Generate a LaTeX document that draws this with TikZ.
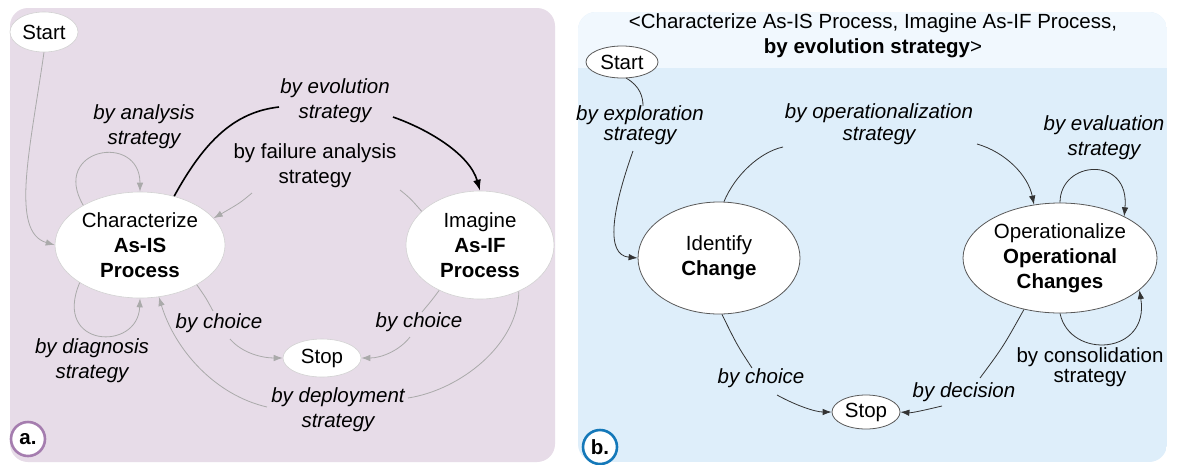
\documentclass[tikz,border=0pt]{standalone}
\usepackage{fontspec}
\setmainfont{Liberation Sans}
\usetikzlibrary{arrows.meta,shapes.geometric}
\definecolor{bgA}{RGB}{231,220,232}
\definecolor{bgB}{RGB}{222,238,250}
\definecolor{hdB}{RGB}{241,248,254}
\definecolor{lnA}{RGB}{170,170,170}
\definecolor{ringA}{RGB}{165,125,175}
\definecolor{ringB}{RGB}{20,120,185}
\newcommand\fsz{\fontsize{20.5}{25}\selectfont}
\newcommand\fszt{\fontsize{20.5}{20.5}\selectfont}
\tikzset{
 stA/.style={ellipse, draw=gray!35, line width=0.6pt, fill=white, inner sep=0pt, align=center, font=\fsz},
 stB/.style={ellipse, draw=black!65, line width=0.8pt, fill=white, inner sep=0pt, align=center, font=\fsz},
 lbl/.style={inner sep=0pt, align=center, font=\fsz\itshape},
 lblup/.style={inner sep=0pt, align=center, font=\fsz},
 conA/.style={draw=lnA, line width=0.8pt},
 conAarr/.style={conA, -{Latex[length=9pt,width=6.5pt]}},
 conE/.style={draw=black, line width=1.6pt},
 conEarr/.style={conE, -{Latex[length=11pt,width=8pt]}},
 conB/.style={draw=black!80, line width=0.8pt},
 conBarr/.style={conB, -{Latex[length=9pt,width=6.5pt]}},
 ring/.style={circle, fill=white, line width=2.6pt, minimum size=34pt, inner sep=0pt, font=\fsz\bfseries},
}
\begin{document}
\begin{tikzpicture}[x=1pt,y=-1pt]
\useasboundingbox (0,0) rectangle (1177,464);
% panels
\fill[white] (0,0) rectangle (1177,464);
\fill[bgA, rounded corners=18pt] (10,8) rectangle (555,462);
\begin{scope}
 \clip[rounded corners=18pt] (578,12) rectangle (1167,462);
 \fill[bgB] (578,12) rectangle (1167,462);
 \fill[hdB] (578,12) rectangle (1167,68);
\end{scope}

% ---------- panel a ----------
\node[stA, minimum width=68pt, minimum height=40pt] (startA) at (44,32) {Start};
\node[stA, minimum width=170pt, minimum height=106pt] (charA) at (140,245) {Characterize\\\textbf{As-IS}\\\textbf{Process}};
\node[stA, minimum width=148pt, minimum height=108pt] (imagA) at (480,245) {Imagine\\\textbf{As-IF}\\\textbf{Process}};
\node[stA, minimum width=78pt, minimum height=38pt] (stopA) at (322,358) {Stop};

\node[lbl] (lanal) at (144,126.5) {by analysis\\strategy};
\node[lbl] (levol) at (335,100.5) {by evolution\\strategy};
\node[lblup] (lfail) at (315,165.5) {by failure analysis\\strategy};
\node[lbl] (lchL) at (219,323) {by choice};
\node[lbl] (lchR) at (419,322) {by choice};
\node[lbl] (ldiag) at (92,360.5) {by diagnosis\\strategy};
\node[lbl] (ldepl) at (338,410) {by deployment\\strategy};

\coordinate (evL) at (279,107);
\coordinate (evR) at (393,117);
\coordinate (faR) at (400,190);
\coordinate (faL) at (252,193);
\coordinate (chLa) at (213,311);
\coordinate (chLb) at (230,339);
\coordinate (chRa) at (422,312);
\coordinate (chRb) at (410,337);
\coordinate (deR) at (408,398);
\coordinate (deL) at (267,407);

\draw[conAarr] (startA.south) .. controls (30,150) and (10,232) .. (charA.west);
\draw[conAarr] (charA.145) .. controls (50,148) and (140,132) .. (charA.north);
\draw[conAarr] (charA.212) .. controls (52,348) and (138,352) .. (charA.south);
\draw[conE] (charA.55) .. controls (205,140) and (235,112) .. (evL);
\draw[conEarr] (evR) .. controls (430,130) and (470,155) .. (imagA.north);
\draw[conA] (imagA.150) .. controls (410,198) .. (faR);
\draw[conAarr] (faL) .. controls (240,203) .. (charA.20);
\draw[conA] (charA.-35) .. controls (206,298) .. (chLa);
\draw[conAarr] (chLb) .. controls (242,353) and (262,358) .. (stopA.west);
\draw[conA] (imagA.228) .. controls (432,300) .. (chRa);
\draw[conAarr] (chRb) .. controls (400,350) and (382,358) .. (stopA.east);
\draw[conA] (imagA.-50) .. controls (518,345) and (460,390) .. (deR);
\draw[conAarr] (deL) .. controls (215,395) and (175,350) .. (charA.-70);

\node[ring, draw=ringA] (ringa) at (28,439) {a.};

% ---------- panel b ----------
\node[lblup] (hdr) at (873,35.5) {<Characterize As-IS Process, Imagine As-IF Process,\\\textbf{by evolution strategy}>};
\node[stB, minimum width=72pt, minimum height=32pt] (startB) at (622,62) {Start};
\node[stB, minimum width=162pt, minimum height=112pt] (identB) at (719,258) {Identify\\\textbf{Change}};
\node[stB, minimum width=194pt, minimum height=110pt] (operB) at (1060,258) {Operationalize\\\textbf{Operational}\\\textbf{Changes}};
\node[stB, minimum width=68pt, minimum height=34pt] (stopB) at (866,412) {Stop};

\node[lbl, font=\fszt\itshape] (lexpl) at (640,125) {by exploration\\strategy};
\node[lbl, font=\fontsize{20.5}{22}\selectfont\itshape] (loper) at (879,124.5) {by operationalization\\strategy};
\node[lbl] (leval) at (1104,137.5) {by evaluation\\strategy};
\node[lblup, font=\fszt] (lcons) at (1090,367) {by consolidation\\strategy};
\node[lbl] (lchB) at (761,378) {by choice};
\node[lbl] (ldec) at (964,392) {by decision};

\coordinate (exT) at (643,106);
\coordinate (exB) at (633,151);
\coordinate (opL) at (783,147);
\coordinate (opR) at (977,144);
\coordinate (chBa) at (752,368);
\coordinate (chBb) at (777,395);
\coordinate (deca) at (980,378);
\coordinate (decb) at (942,406);

\draw[conB] (startB.-75) .. controls (640,86) and (643,97) .. (exT);
\draw[conBarr] (exB) .. controls (612,210) and (605,255) .. (identB.west);
\draw[conB] (identB.85) .. controls (735,175) and (760,152) .. (opL);
\draw[conBarr] (opR) .. controls (1005,152) and (1028,175) .. (operB.116);
\draw[conBarr] (operB.north) .. controls (1060,160) and (1130,155) .. (operB.33);
\draw[conBarr] (operB.south) .. controls (1070,360) and (1150,355) .. (operB.-22);
\draw[conB] (identB.-87) .. controls (737,345) .. (chBa);
\draw[conBarr] (chBb) .. controls (795,405) and (815,412) .. (stopB.west);
\draw[conB] (operB.235) .. controls (1003,347) .. (deca);
\draw[conBarr] (decb) .. controls (925,410) and (912,413) .. (stopB.east);

\node[ring, draw=ringB] (ringb) at (600,447) {b.};
\end{tikzpicture}
\end{document}
